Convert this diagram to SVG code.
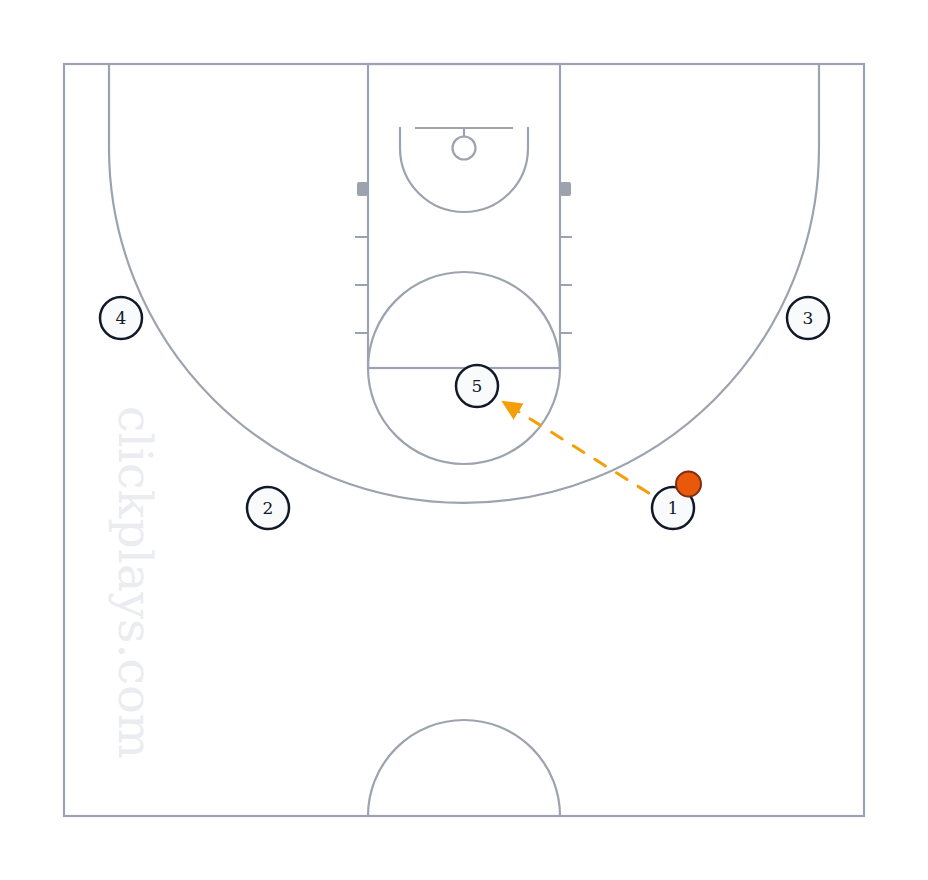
<svg xmlns="http://www.w3.org/2000/svg" width="928" height="880" viewBox="0 0 928 880">
<style>
.court{fill:none;stroke:#9ca3af;stroke-width:2.2}
.block{fill:#9ca3af}
.player circle{fill:#f8fafc;stroke:#111827;stroke-width:2.5}
.player text{font-family:"DejaVu Serif","Liberation Serif",serif;font-size:17px;fill:#111827;text-anchor:middle}
.wm{font-family:"DejaVu Serif","Liberation Serif",serif;font-size:47.5px;fill:#eaecef}
.pass{fill:none;stroke:#f59e0b;stroke-width:3;stroke-linecap:round;stroke-dasharray:12.5 13}
</style>
<defs>
<marker id="ah" markerUnits="userSpaceOnUse" markerWidth="21" markerHeight="20" viewBox="0 0 21 20" refX="0" refY="10" orient="auto">
<path d="M0,0.5 L20.5,10 L0,19.5 z" fill="#f59e0b"/>
</marker>
</defs>
<rect width="928" height="880" fill="#ffffff"/>
<text class="wm" transform="translate(119,406) rotate(90)">clickplays.com</text>
<g id="court">
<rect class="court" x="64" y="64" width="800" height="752"/>
<path class="court" d="M109,64 V148 A355,355 0 0 0 819,148 V64"/>
<rect class="court" x="368" y="64" width="192" height="304"/>
<circle class="court" cx="464" cy="368" r="96"/>
<path class="court" d="M400,127 V148 A64,64 0 0 0 528,148 V127"/>
<line class="court" x1="415" y1="128" x2="513" y2="128"/>
<line class="court" x1="464" y1="128" x2="464" y2="136.5"/>
<circle class="court" cx="464" cy="148" r="11.5"/>
<rect class="block" x="357" y="182" width="11" height="14" rx="2"/>
<rect class="block" x="560" y="182" width="11" height="14" rx="2"/>
<path class="court" d="M355,237 H368 M355,285 H368 M355,333 H368 M560,237 H572 M560,285 H572 M560,333 H572"/>
<path class="court" d="M368,816 A96,96 0 0 1 560,816"/>
</g>
<g id="connectors">
<line class="pass" x1="648.7" y1="493" x2="518.6" y2="411.6" marker-end="url(#ah)"/>
</g>
<g id="player-1" class="player"><circle cx="673" cy="508" r="21"/><text x="673" y="514">1</text></g>
<g id="player-2" class="player"><circle cx="268" cy="508" r="21"/><text x="268" y="514">2</text></g>
<g id="player-3" class="player"><circle cx="808" cy="318" r="21"/><text x="808" y="324">3</text></g>
<g id="player-4" class="player"><circle cx="121" cy="318" r="21"/><text x="121" y="324">4</text></g>
<g id="player-5" class="player"><circle cx="477" cy="386" r="21"/><text x="477" y="392">5</text></g>
<g id="ball"><circle cx="688.5" cy="484" r="12.5" fill="#ea580c" stroke="#7c2d12" stroke-width="2"/></g>
</svg>
